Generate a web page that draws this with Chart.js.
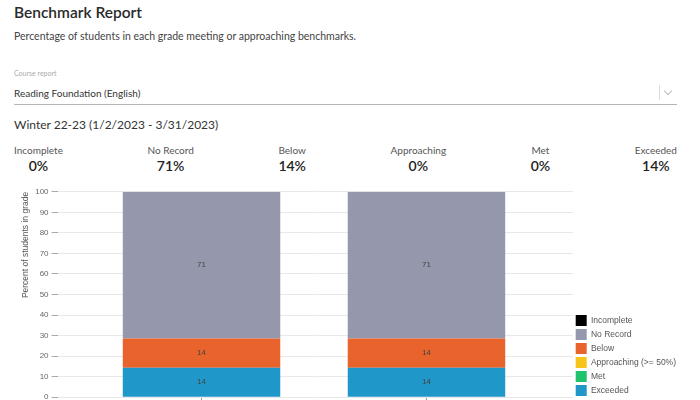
<!DOCTYPE html>
<html>
<head>
<meta charset="utf-8">
<script src="https://cdn.jsdelivr.net/npm/chart.js@4.4.1/dist/chart.umd.min.js"></script>
<style>
  html, body { margin: 0; padding: 0; background: #fff; width: 700px; height: 400px; overflow: hidden; }
  body { position: relative; font-family: Lato, "Open Sans", sans-serif; color: #333; }
  .abs { position: absolute; white-space: nowrap; line-height: 1; }
  #title { left: 14px; top: 5px; font-size: 15.5px; font-weight: 600; color: #2a2a2a; }
  #subtitle { left: 14px; top: 31px; font-size: 10.5px; color: #444; }
  #courseLbl { left: 14px; top: 70px; font-size: 7px; color: #aaa; }
  #course { left: 14px; top: 88px; font-size: 10px; color: #333; }
  #rule { left: 14px; top: 104px; width: 663px; height: 1px; background: #b5b5b5; }
  #divider { left: 659px; top: 85px; width: 1px; height: 15px; background: #ddd; }
  #chev { left: 665px; top: 88px; width: 5px; height: 5px; border-right: 1px solid #bbb; border-bottom: 1px solid #bbb; transform: rotate(45deg); }
  #period { left: 14px; top: 119px; font-size: 12px; color: #333; }
  #stats { position: absolute; left: 14px; top: 145px; width: 663px; display: flex; justify-content: space-between; }
  .stat { text-align: center; }
  .stat .lbl { font-size: 10px; color: #555; line-height: 1; }
  .stat .val { font-size: 14px; font-weight: 600; color: #222; line-height: 1; margin-top: 4px; }
  #wrap { position: absolute; left: 13px; top: 184px; width: 673px; height: 221px; }
</style>
</head>
<body>
<div class="abs" id="title">Benchmark Report</div>
<div class="abs" id="subtitle">Percentage of students in each grade meeting or approaching benchmarks.</div>
<div class="abs" id="courseLbl">Course report</div>
<div class="abs" id="course">Reading Foundation (English)</div>
<div class="abs" id="rule"></div>
<div class="abs" id="divider"></div>
<div class="abs" id="chev"></div>
<div class="abs" id="period">Winter 22-23 (1/2/2023 - 3/31/2023)</div>
<div id="stats"></div>
<div id="wrap"><canvas id="benchChart"></canvas></div>

<script>
// summary row
const summaryLabels = ['Incomplete', 'No Record', 'Below', 'Approaching', 'Met', 'Exceeded'];
const summaryValues = [0, 71, 14, 0, 0, 14];

// chart data (two grade bars, stacked bottom -> top)
const barPositions = [0, 1];
const seriesNames = ['Exceeded', 'Met', 'Approaching (>= 50%)', 'Below', 'No Record', 'Incomplete'];
const seriesColors = ['#1f97c9', '#1ec36b', '#f7c41b', '#e9632d', '#9598ad', '#000000'];
const exceeded = [14.3, 14.3];
const met = [0, 0];
const approaching = [0, 0];
const below = [14.3, 14.3];
const noRecord = [71.4, 71.4];
const incomplete = [0, 0];
const yTicks = [0, 10, 20, 30, 40, 50, 60, 70, 80, 90, 100];

const statsEl = document.getElementById('stats');
summaryLabels.forEach((l, i) => {
    const d = document.createElement('div');
    d.className = 'stat';
    d.innerHTML = '<div class="lbl">' + l + '</div><div class="val">' + summaryValues[i] + '%</div>';
    statsEl.appendChild(d);
});

const seriesValues = [exceeded, met, approaching, below, noRecord, incomplete];

// write the rounded value in the middle of each segment
const segmentLabels = {
    id: 'segmentLabels',
    afterDatasetsDraw(chart) {
        const ctx = chart.ctx;
        ctx.save();
        ctx.font = '8px "Liberation Sans", Arial, sans-serif';
        ctx.fillStyle = '#444';
        ctx.textAlign = 'center';
        ctx.textBaseline = 'middle';
        chart.data.datasets.forEach((ds, di) => {
            const meta = chart.getDatasetMeta(di);
            meta.data.forEach((bar, i) => {
                const v = ds.data[i].y;
                if (v < 0.5) return;
                const p = bar.getCenterPoint();
                ctx.fillText(Math.round(v), p.x, p.y);
            });
        });
        ctx.restore();
    }
};

// lift the legend a little so its last row sits above the baseline
const legendLift = {
    id: 'legendLift',
    afterLayout(chart) {
        if (chart.legend) chart.legend.bottom -= 6;
    }
};

new Chart(document.getElementById('benchChart'), {
    type: 'bar',
    data: {
        datasets: seriesNames.map((name, s) => ({
            label: name,
            data: barPositions.map((x, i) => ({ x: x, y: seriesValues[s][i] })),
            backgroundColor: seriesColors[s],
            borderWidth: 0,
            barPercentage: 0.7,
            categoryPercentage: 1
        }))
    },
    options: {
        responsive: true,
        maintainAspectRatio: false,
        animation: false,
        layout: { padding: 0 },
        scales: {
            x: {
                type: 'linear',
                stacked: true,
                offset: false,
                min: -0.64,
                max: 1.65,
                afterBuildTicks: (scale) => { scale.ticks = barPositions.map(v => ({ value: v })); },
                ticks: { callback: () => '', font: { size: 1 }, padding: 0 },
                grid: { drawOnChartArea: false, drawTicks: true, tickLength: 4, color: '#999', offset: false },
                border: { display: false }
            },
            y: {
                stacked: true,
                min: 0,
                max: 100,
                afterBuildTicks: (scale) => { scale.ticks = yTicks.map(v => ({ value: v })); },
                ticks: { color: '#666', font: { family: '"Liberation Sans", Arial, sans-serif', size: 8 }, padding: 3 },
                grid: { color: '#e8e8e8', tickColor: '#aaa', tickLength: 6 },
                border: { display: false },
                title: {
                    display: true,
                    text: 'Percent of students in grade',
                    align: 'end',
                    color: '#555',
                    font: { family: '"Liberation Sans", Arial, sans-serif', size: 8.5 },
                    padding: { top: 8, bottom: 1 }
                }
            }
        },
        plugins: {
            legend: {
                position: 'right',
                align: 'end',
                reverse: true,
                labels: {
                    boxWidth: 11,
                    boxHeight: 11,
                    padding: 3,
                    color: '#555',
                    font: { family: '"Liberation Sans", Arial, sans-serif', size: 8.5 }
                }
            },
            tooltip: { enabled: false }
        }
    },
    plugins: [segmentLabels, legendLift]
});
</script>
</body>
</html>
